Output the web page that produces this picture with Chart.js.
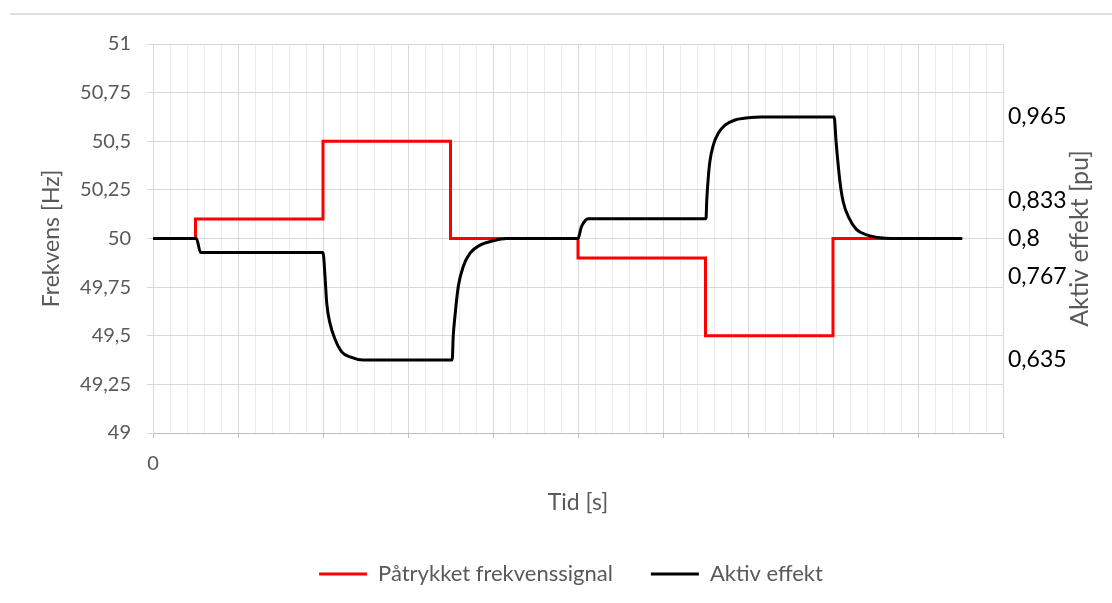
<!DOCTYPE html>
<html>
<head>
<meta charset="utf-8">
<script src="https://cdn.jsdelivr.net/npm/chart.js@4.4.1/dist/chart.umd.min.js"></script>
<style>
  body { margin: 0; background: #fff; }
  #wrap { position: relative; width: 1112px; height: 603px; }
  #topline { position: absolute; left: 10px; right: 0; top: 13px; border-top: 2px solid #dedede; }
  canvas { position: absolute; left: 0; top: 0; }
</style>
</head>
<body>
<div id="wrap">
  <div id="topline"></div>
  <canvas id="chart" width="1112" height="603"></canvas>
</div>
<script>
// time axis in grid steps (no labels other than 0 in the original)
const xTickLabels = ['0'];

// Påtrykket frekvenssignal [Hz] - step changes
const redTime = [0, 2.5, 10, 17.5, 25, 32.5, 40, 47.6];
const redFreq = [50, 50.1, 50.5, 50, 49.9, 49.5, 50, 50];

// Aktiv effekt [pu]
const blackTime = [0, 2.55, 2.8, 10.0, 10.12, 10.22, 10.41, 10.71, 11.1, 11.59, 12.35, 13.2,
    17.6, 17.66, 17.76, 17.96, 18.25, 18.65, 19.24, 20.02, 20.8,
    25.0, 25.2, 25.45, 25.6,
    32.53, 32.57, 32.66, 32.76, 32.96, 33.25, 33.65, 34.24, 35.02, 35.8,
    40.07, 40.18, 40.41, 40.6, 40.94, 41.39, 41.98, 42.76, 43.45, 47.6];
const blackPower = [0.8, 0.8, 0.781, 0.781, 0.748, 0.712, 0.685, 0.663, 0.646, 0.639, 0.635, 0.635,
    0.635, 0.667, 0.694, 0.735, 0.762, 0.780, 0.791, 0.797, 0.8,
    0.8, 0.816, 0.825, 0.827,
    0.827, 0.850, 0.882, 0.905, 0.927, 0.943, 0.954, 0.961, 0.964, 0.965,
    0.965, 0.932, 0.877, 0.850, 0.828, 0.812, 0.805, 0.801, 0.8, 0.8];

const leftTickLabels = ['49', '49,25', '49,5', '49,75', '50', '50,25', '50,5', '50,75', '51'];
const rightTickValues = [0.635, 0.767, 0.8, 0.833, 0.965];
const rightTickLabels = ['0,635', ['', '0,767'], '0,8', ['0,833', ''], '0,965'];

const rightTitle = 'Aktiv effekt [pu]';
const gray = '#595959';
const fontFam = 'Lato, "Open Sans", sans-serif';

// right axis title reads bottom-to-top like in Excel
const rightTitlePlugin = {
    id: 'rightTitle',
    afterDraw(chart) {
        const s = chart.scales.y1;
        const ctx = chart.ctx;
        ctx.save();
        ctx.translate(s.left + 77, (chart.chartArea.top + chart.chartArea.bottom) / 2);
        ctx.rotate(-Math.PI / 2);
        ctx.font = '25px ' + fontFam;
        ctx.fillStyle = gray;
        ctx.textAlign = 'center';
        ctx.textBaseline = 'middle';
        ctx.fillText(rightTitle, 0, 0);
        ctx.restore();
    }
};

const ctx = document.getElementById('chart').getContext('2d');
new Chart(ctx, {
    type: 'line',
    data: {
        datasets: [
            {
                label: 'Påtrykket frekvenssignal',
                data: redTime.map((t, i) => ({x: t, y: redFreq[i]})),
                borderColor: '#ff0000',
                backgroundColor: '#ff0000',
                borderWidth: 3,
                stepped: 'before',
                pointRadius: 0,
                yAxisID: 'y',
                order: 2
            },
            {
                label: 'Aktiv effekt',
                data: blackTime.map((t, i) => ({x: t, y: blackPower[i]})),
                borderColor: '#000000',
                backgroundColor: '#000000',
                borderWidth: 3,
                cubicInterpolationMode: 'monotone',
                pointRadius: 0,
                yAxisID: 'y1',
                order: 1
            }
        ]
    },
    options: {
        responsive: false,
        animation: false,
        layout: {padding: {left: 30, right: 0, top: 44, bottom: 8}},
        plugins: {
            tooltip: {enabled: false},
            legend: {
                position: 'bottom',
                labels: {
                    boxWidth: 48,
                    boxHeight: 3,
                    padding: 38,
                    color: gray,
                    font: {family: fontFam, size: 22},
                    sort: (a, b) => a.datasetIndex - b.datasetIndex,
                    generateLabels: (chart) => Chart.defaults.plugins.legend.labels.generateLabels(chart)
                        .map(l => Object.assign(l, {lineWidth: 0}))
                }
            }
        },
        scales: {
            x: {
                type: 'linear',
                min: 0,
                max: 50,
                afterFit: (s) => { s.height = 92; },
                ticks: {
                    stepSize: 1,
                    autoSkip: false,
                    maxRotation: 0,
                    padding: 14,
                    color: gray,
                    font: {family: fontFam, size: 20},
                    callback: (v, i) => xTickLabels[i] ?? ''
                },
                grid: {
                    color: (c) => (c.tick && Math.round(c.tick.value) % 5 === 0) ? '#d9d9d9' : '#ebebeb',
                    tickColor: (c) => (c.tick && Math.round(c.tick.value) % 5 === 0) ? '#bfbfbf' : 'rgba(0,0,0,0)',
                    tickLength: 5
                },
                border: {color: '#bfbfbf', width: 1},
                title: {
                    display: true,
                    text: 'Tid [s]',
                    color: gray,
                    font: {family: fontFam, size: 23},
                    padding: {top: 0, bottom: 8.2}
                }
            },
            y: {
                position: 'left',
                min: 49,
                max: 51,
                afterFit: (s) => { s.width = 123; },
                ticks: {
                    stepSize: 0.25,
                    padding: 16,
                    color: gray,
                    font: {family: fontFam, size: 20},
                    callback: (v, i) => leftTickLabels[i]
                },
                grid: {color: '#d9d9d9', tickColor: '#d9d9d9', tickLength: 6},
                border: {color: '#d9d9d9'},
                title: {
                    display: true,
                    text: 'Frekvens [Hz]',
                    color: gray,
                    font: {family: fontFam, size: 23},
                    padding: {top: 8.2, bottom: 0}
                }
            },
            y1: {
                position: 'right',
                min: 0.5357,
                max: 1.0643,
                afterFit: (s) => { s.width = 109; },
                afterBuildTicks: (s) => { s.ticks = rightTickValues.map(v => ({value: v})); },
                ticks: {
                    autoSkip: false,
                    padding: 5,
                    color: '#000000',
                    font: {family: fontFam, size: 23},
                    callback: (v, i) => rightTickLabels[i]
                },
                grid: {drawOnChartArea: false, drawTicks: false},
                border: {color: '#d9d9d9'}
            }
        }
    },
    plugins: [rightTitlePlugin]
});
</script>
</body>
</html>
